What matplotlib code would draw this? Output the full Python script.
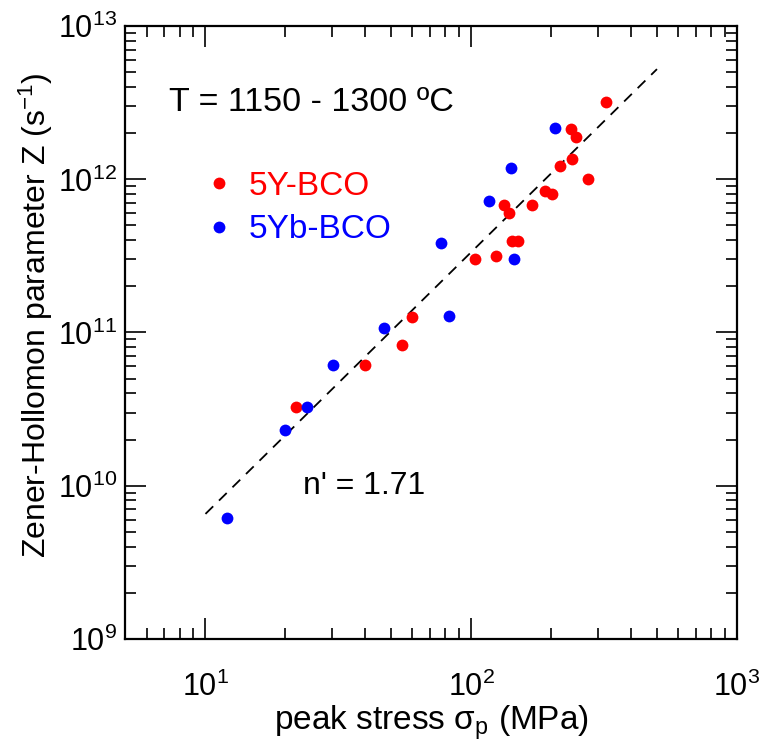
import numpy as np
import matplotlib
matplotlib.use("Agg")
import matplotlib.pyplot as plt
from matplotlib.ticker import LogLocator, NullFormatter, LogFormatterMathtext

plt.rcParams['font.family'] = ['Liberation Sans', 'DejaVu Sans']
plt.rcParams['mathtext.fontset'] = 'custom'
plt.rcParams['mathtext.rm'] = 'Liberation Sans'
plt.rcParams['mathtext.it'] = 'Liberation Sans:italic'
plt.rcParams['mathtext.bf'] = 'Liberation Sans:bold'

# ---- data ----
y_stress = [22.0, 40.0, 55.0, 60.1, 103, 124, 142.6, 150.6, 133.4, 138.6, 170,
            190, 201, 216, 240, 274, 237, 248, 322]
y_Z = [3.25e10, 6.1e10, 8.3e10, 1.27e11, 3.03e11, 3.17e11, 3.97e11, 3.97e11,
       6.76e11, 6.05e11, 6.76e11, 8.35e11, 8.05e11, 1.23e12, 1.35e12, 1.0e12,
       2.12e12, 1.88e12, 3.21e12]
yb_stress = [12.0, 20.0, 24.1, 30.1, 47.1, 76.9, 82.2, 117, 140.6, 144.9, 207.5]
yb_Z = [6.15e9, 2.29e10, 3.25e10, 6.1e10, 1.07e11, 3.82e11, 1.28e11, 7.2e11,
        1.19e12, 3.03e11, 2.17e12]
fit_x = [10, 500]
fit_n = 1.71
fit_logZ_at_10 = 9.815
labels = ['5Y-BCO', '5Yb-BCO']
colors = ['#ff0000', '#0000ff']

fig = plt.figure(figsize=(7.66, 7.47), dpi=100)
ax = fig.add_axes([0.1638, 0.145, 0.7983, 0.8198])

fx = np.array(fit_x, dtype=float)
fy = 10 ** (fit_logZ_at_10 + fit_n * (np.log10(fx) - 1))
ax.plot(fx, fy, color='black', lw=1.3, dashes=(6, 4.5))

ax.plot(y_stress, y_Z, 'o', color=colors[0], ms=8.5, mew=0, label=labels[0])
ax.plot(yb_stress, yb_Z, 'o', color=colors[1], ms=8.5, mew=0, label=labels[1])

ax.set_xscale('log')
ax.set_yscale('log')
ax.set_xlim(5, 1000)
ax.set_ylim(1e9, 1e13)

ax.xaxis.set_major_locator(LogLocator(base=10, numticks=10))
ax.yaxis.set_major_locator(LogLocator(base=10, numticks=10))
ax.xaxis.set_minor_locator(LogLocator(base=10, subs=np.arange(2, 10), numticks=20))
ax.yaxis.set_minor_locator(LogLocator(base=10, subs=np.arange(2, 10), numticks=20))
ax.xaxis.set_minor_formatter(NullFormatter())
ax.yaxis.set_minor_formatter(NullFormatter())
ax.xaxis.set_major_formatter(LogFormatterMathtext())
ax.yaxis.set_major_formatter(LogFormatterMathtext())

ax.tick_params(which='both', direction='in', top=True, right=True, colors='black')
ax.tick_params(which='major', length=15, width=1.2, labelsize=22)
ax.tick_params(axis='x', which='major', pad=24)
ax.tick_params(axis='y', which='major', pad=6)
ax.tick_params(which='minor', length=8, width=1.2)
for s in ax.spines.values():
    s.set_linewidth(1.6)

ax.set_xlabel('peak stress σ$_\\mathrm{p}$ (MPa)', fontsize=24, labelpad=0)
ax.set_ylabel('Zener-Hollomon parameter Z (s$^{-1}$)', fontsize=23)
ax.yaxis.set_label_coords(-0.115, 0.528)

ax.text(0.072, 0.875, 'T = 1150 - 1300 ºC', transform=ax.transAxes,
        fontsize=24.5, ha='left', va='center')
ax.text(0.290, 0.250, "n' = 1.71", transform=ax.transAxes,
        fontsize=23, ha='left', va='center')

leg = ax.legend(loc='upper left', bbox_to_anchor=(0.104, 0.786), frameon=False,
                fontsize=24, handletextpad=0.4, labelspacing=0.38,
                handlelength=1.0, borderaxespad=0, labelcolor='linecolor')

fig.savefig('out.png', dpi=100)
